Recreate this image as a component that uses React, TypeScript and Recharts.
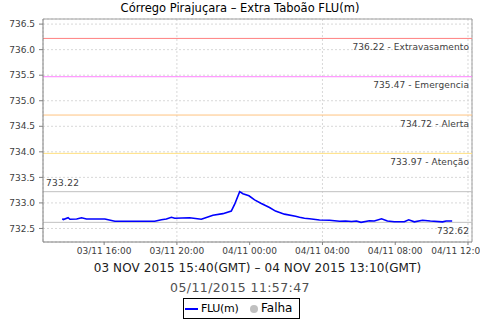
import React from 'react';
import { LineChart, Line, XAxis, YAxis, CartesianGrid, ReferenceLine } from 'recharts';

const hours = [13.70, 13.76, 14.02, 14.12, 14.49, 14.76, 15.03, 16.04, 16.59, 18.78, 19.15, 19.42, 19.70, 19.88, 20.70, 21.34, 21.42, 21.98, 22.53, 22.99, 23.17, 23.45, 23.63, 23.96, 24.27, 24.64, 25.09, 25.42, 25.91, 26.52, 26.74, 27.01, 27.29, 27.84, 28.39, 28.94, 29.27, 29.60, 29.87, 30.12, 30.58, 30.85, 31.25, 31.57, 31.95, 32.50, 32.74, 33.05, 33.50, 33.93, 34.60, 34.80, 35.13];
const levels = [732.69, 732.675, 732.71, 732.68, 732.685, 732.71, 732.685, 732.685, 732.64, 732.64, 732.67, 732.685, 732.72, 732.70, 732.71, 732.68, 732.69, 732.76, 732.79, 732.84, 732.97, 733.22, 733.18, 733.14, 733.06, 732.99, 732.91, 732.84, 732.78, 732.74, 732.72, 732.70, 732.69, 732.665, 732.66, 732.64, 732.645, 732.635, 732.645, 732.62, 732.65, 732.645, 732.69, 732.645, 732.63, 732.63, 732.67, 732.63, 732.66, 732.645, 732.63, 732.645, 732.645];

const xTicks = [16, 20, 24, 28, 32, 36];
const xTickLabels = ['03/11 16:00', '03/11 20:00', '04/11 00:00', '04/11 04:00', '04/11 08:00', '04/11 12:00'];
const yTicks = [732.5, 733.0, 733.5, 734.0, 734.5, 735.0, 735.5, 736.0, 736.5];

const thresholdValues = [736.22, 735.47, 734.72, 733.97];
const thresholdNames = ['Extravasamento', 'Emergencia', 'Alerta', 'Atenção'];
const thresholdColors = ['#ff8080', '#ff80ff', '#ffc480', '#ffe080'];
const maxLevel = 733.22;
const minLevel = 732.62;

const xDomain: [number, number] = [12.64, 36.22];
const yDomain: [number, number] = [732.235, 736.6];

const data = hours.map((h, i) => ({ h, v: levels[i] }));

const FONT = '"DejaVu Sans", sans-serif';

const rightLabel = (text: string) => (p: any) => {
  const vb = p.viewBox || {};
  return (
    <text x={vb.x + vb.width - 3} y={vb.y + 8.5} textAnchor="end" dominantBaseline="central"
      fontFamily={FONT} fontSize={9} fill="#404040" letterSpacing={0.1}>{text}</text>
  );
};

const leftAboveLabel = (text: string) => (p: any) => {
  const vb = p.viewBox || {};
  return (
    <text x={vb.x + 3} y={vb.y - 9} textAnchor="start" dominantBaseline="central"
      fontFamily={FONT} fontSize={9} fill="#404040" letterSpacing={0.3}>{text}</text>
  );
};

export default function App() {
  return (
    <div style={{ position: 'absolute', left: 0, top: 0, width: 480, height: 320, background: '#fff', fontFamily: FONT }}>
      <div style={{ position: 'absolute', left: 0, width: 480, top: 0, textAlign: 'center', fontSize: 11.5, lineHeight: '16px', color: '#000' }}>
        Córrego Pirajuçara – Extra Taboão FLU(m)
      </div>
      <LineChart width={480} height={320} data={data} margin={{ top: 19, right: 8, bottom: 58, left: 0 }}>
        <CartesianGrid stroke="#d8d8d8" strokeDasharray="2 2" />
        <XAxis dataKey="h" type="number" domain={xDomain} ticks={xTicks} allowDataOverflow
          tickFormatter={(t: number) => xTickLabels[xTicks.indexOf(t)] ?? ''}
          height={20} tickSize={3} tickMargin={3} stroke="#808080"
          tick={{ fontFamily: FONT, fontSize: 9, fill: '#404040' }} />
        <YAxis type="number" domain={yDomain} ticks={yTicks} allowDataOverflow width={43}
          tickFormatter={(t: number) => t.toFixed(1)} tickSize={4} tickMargin={4} stroke="#808080"
          tick={{ fontFamily: FONT, fontSize: 9, fill: '#404040' }} />
        <ReferenceLine y={yDomain[1]} stroke="#a0a0a0" />
        <ReferenceLine x={xDomain[1]} stroke="#a0a0a0" />
        {thresholdValues.map((v, i) => (
          <ReferenceLine key={v} y={v} stroke={thresholdColors[i]} strokeWidth={1}
            label={rightLabel(`${v.toFixed(2)} - ${thresholdNames[i]}`)} />
        ))}
        <ReferenceLine y={maxLevel} stroke="#c0c0c0" label={leftAboveLabel(maxLevel.toFixed(2))} />
        <ReferenceLine y={minLevel} stroke="#c0c0c0" label={rightLabel(minLevel.toFixed(2))} />
        <Line dataKey="v" stroke="#0000ff" strokeWidth={1.6} dot={false} isAnimationActive={false} type="linear" />
      </LineChart>
      <div style={{ position: 'absolute', left: 43, width: 429, top: 260, textAlign: 'center', fontSize: 12, lineHeight: '16px', color: '#202020', letterSpacing: 0.1 }}>
        03 NOV 2015 15:40(GMT) – 04 NOV 2015 13:10(GMT)
      </div>
      <div style={{ position: 'absolute', left: 0, width: 480, top: 280, textAlign: 'center', fontSize: 12.5, lineHeight: '16px', color: '#505050', letterSpacing: 0.4 }}>
        05/11/2015 11:57:47
      </div>
      <div style={{ position: 'absolute', left: 183, top: 298, width: 115, height: 19, border: '1px solid #000', boxSizing: 'content-box', fontSize: 12, lineHeight: '19px', color: '#000' }}>
        <div style={{ position: 'absolute', left: 1, top: 9, width: 13, height: 2, background: '#0000ff' }} />
        <div style={{ position: 'absolute', left: 17, top: 0, fontSize: 11, letterSpacing: -0.3 }}>FLU(m)</div>
        <div style={{ position: 'absolute', left: 66, top: 6, width: 8, height: 8, borderRadius: 4, background: '#c0c0c0' }} />
        <div style={{ position: 'absolute', left: 77, top: 0 }}>Falha</div>
      </div>
    </div>
  );
}
